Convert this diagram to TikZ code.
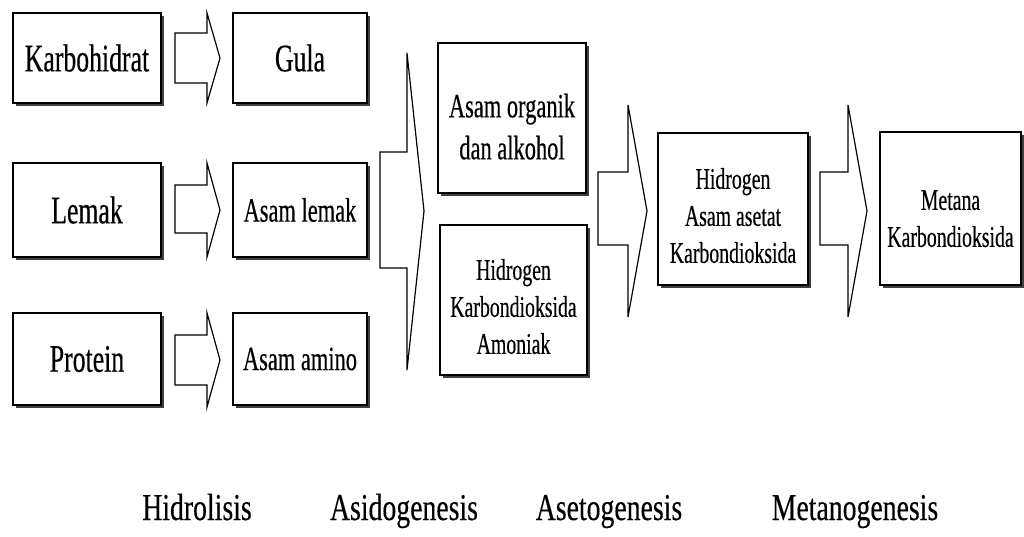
\documentclass[tikz,border=0pt]{standalone}
\usepackage{fontspec}
\setmainfont{Liberation Serif}[FakeStretch=0.66,FakeBold=0.4]
\newfontfamily\stagefont{Liberation Serif}[FakeStretch=0.73,FakeBold=0.3]
\usetikzlibrary{shadows}
\newcommand\topgap[1]{\rule{0pt}{#1}}

\begin{document}
\begin{tikzpicture}[x=1pt,y=-1pt]
\tikzstyle{stagebox}=[draw=black,line width=1.6pt,fill=white,inner sep=0pt,align=center,drop shadow={shadow xshift=3pt,shadow yshift=-3pt,fill=black!75,opacity=1}]
\tikzstyle{blockarrow}=[draw=black,line width=1.2pt,fill=white,line join=miter]
\tikzstyle{big}=[font=\fontsize{39}{44}\selectfont]
\tikzstyle{mid}=[font=\fontsize{34}{42}\selectfont]
\tikzstyle{small}=[font=\fontsize{30}{37}\selectfont]
\tikzstyle{stagelabel}=[font=\stagefont\fontsize{38}{40}\selectfont,anchor=base]

\useasboundingbox (0,0) rectangle (1024,536);

% hidrolisis
\node [stagebox,big] (karbo) at(87,58)[minimum width=148pt,minimum height=90pt] {Karbohidrat};
\node [stagebox,big] (lemak) at(87,210)[minimum width=148pt,minimum height=94pt] {Lemak};
\node [stagebox,big] (protein) at(87,359)[minimum width=148pt,minimum height=92pt] {Protein};
\node [stagebox,big] (gula) at(300,58)[minimum width=134pt,minimum height=90pt] {Gula};
\node [stagebox,mid] (asamlemak) at(300,210)[minimum width=134pt,minimum height=94pt] {Asam lemak};
\node [stagebox,mid] (asamamino) at(300,359)[minimum width=134pt,minimum height=92pt] {Asam amino};

% asidogenesis
\node [stagebox,mid] (organik) at(512,118)[minimum width=148pt,minimum height=150pt] {\topgap{41pt}Asam organik\\dan alkohol};
\node [stagebox,small] (amoniak) at(513.5,300)[minimum width=147pt,minimum height=150pt] {\topgap{34pt}Hidrogen\\Karbondioksida\\Amoniak};

% asetogenesis
\node [stagebox,small] (asetat) at(733,209)[minimum width=150pt,minimum height=152pt] {\topgap{34pt}Hidrogen\\Asam asetat\\Karbondioksida};

% metanogenesis
\node [stagebox,small] (metana) at(950.5,208.5)[minimum width=141pt,minimum height=153pt] {\topgap{40pt}Metana\\Karbondioksida};

\draw [blockarrow] (175,33) -- (207,33) -- (207,13) -- (220,58) -- (207,103) -- (207,83) -- (175,83) -- cycle;
\draw [blockarrow] (175,185) -- (207,185) -- (207,163) -- (220,210) -- (207,257) -- (207,233) -- (175,233) -- cycle;
\draw [blockarrow] (175,335) -- (207,335) -- (207,313) -- (220,360) -- (207,407) -- (207,385) -- (175,385) -- cycle;
\draw [blockarrow] (380,152) -- (407,152) -- (407,53) -- (424,211) -- (407,370) -- (407,268) -- (380,268) -- cycle;
\draw [blockarrow] (598,172) -- (628,172) -- (628,105) -- (647,211) -- (628,317) -- (628,245) -- (598,245) -- cycle;
\draw [blockarrow] (820,172) -- (848,172) -- (848,105) -- (867,211) -- (848,317) -- (848,245) -- (820,245) -- cycle;

\node [stagelabel] (hidrolisis) at(197,520) {Hidrolisis};
\node [stagelabel] (asidogenesis) at(404,520) {Asidogenesis};
\node [stagelabel] (asetogenesis) at(609,520) {Asetogenesis};
\node [stagelabel] (metanogenesis) at(855,520) {Metanogenesis};
\end{tikzpicture}
\end{document}
